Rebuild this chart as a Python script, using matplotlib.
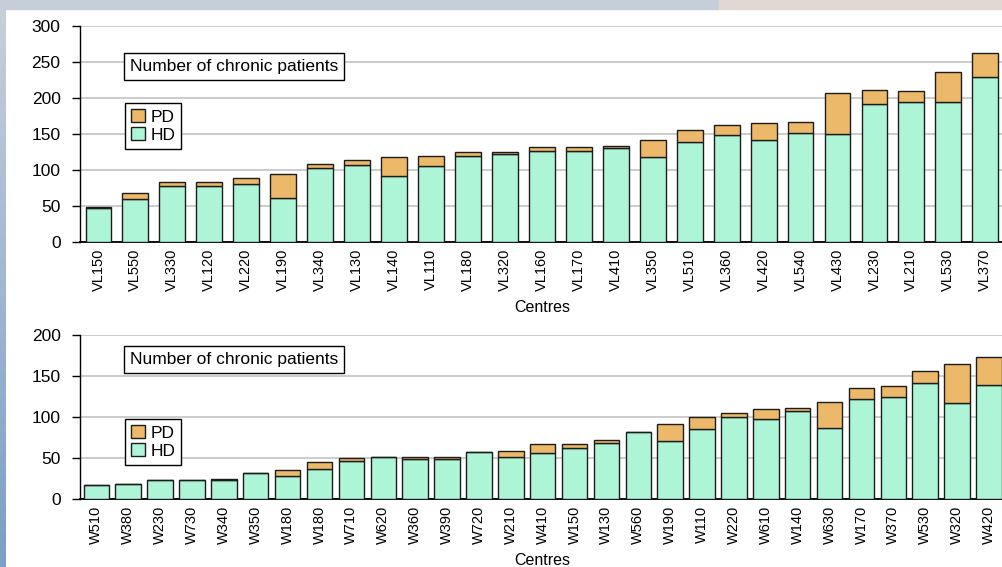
import numpy as np
import matplotlib
matplotlib.use("Agg")
import matplotlib.pyplot as plt
from matplotlib.patches import Rectangle

plt.rcParams['font.family'] = ['Liberation Sans', 'DejaVu Sans']

# --- datos: centros de la region VL ---
centros_vl = ['VL150', 'VL550', 'VL330', 'VL120', 'VL220', 'VL190', 'VL340', 'VL130',
              'VL140', 'VL110', 'VL180', 'VL320', 'VL160', 'VL170', 'VL410', 'VL350',
              'VL510', 'VL360', 'VL420', 'VL540', 'VL430', 'VL230', 'VL210', 'VL530',
              'VL370']
hd_vl = [47, 60, 78, 78, 81, 61, 103, 107, 92, 105, 119, 122, 127, 127, 130, 118,
         139, 149, 141, 152, 150, 191, 195, 194, 229]
pd_vl = [1, 8, 5, 5, 8, 34, 5, 7, 26, 14, 6, 3, 5, 5, 3, 23,
         16, 14, 24, 14, 57, 20, 15, 42, 33]

# --- datos: centros de la region W ---
centros_w = ['W510', 'W380', 'W230', 'W730', 'W340', 'W350', 'W180', 'W180', 'W710',
             'W620', 'W360', 'W390', 'W720', 'W210', 'W410', 'W150', 'W130', 'W560',
             'W190', 'W110', 'W220', 'W610', 'W140', 'W630', 'W170', 'W370', 'W530',
             'W320', 'W420']
hd_w = [18, 19, 23, 23, 23, 32, 28, 37, 47, 51, 49, 49, 58, 52, 56, 63, 68, 82,
        71, 85, 100, 98, 107, 87, 122, 124, 141, 117, 139]
pd_w = [0, 0, 0, 0, 2, 0, 8, 8, 3, 0, 3, 3, 0, 7, 11, 4, 4, 0,
        21, 15, 5, 12, 4, 31, 14, 14, 15, 48, 34]

COLOR_HD = '#aef5d8'
COLOR_PD = '#ecb86a'
BORDE = '#1c1c1c'

fig = plt.figure(figsize=(10.02, 5.67), dpi=100)

# marco de fondo: franja superior y franja lateral con degradado
fig.patches.append(Rectangle((0, 1 - 9 / 567), 719 / 1002, 9 / 567,
                             transform=fig.transFigure, color='#c6ced9', zorder=0))
fig.patches.append(Rectangle((719 / 1002, 1 - 9 / 567), 1 - 719 / 1002, 9 / 567,
                             transform=fig.transFigure, color='#e0d9d3', zorder=0))
ax_borde = fig.add_axes([0, 0, 6 / 1002, 1 - 9 / 567])
grad = np.linspace(0, 1, 256).reshape(-1, 1)
cmap = matplotlib.colors.LinearSegmentedColormap.from_list('borde', ['#c6cfdb', '#7c9ec8'])
ax_borde.imshow(grad, aspect='auto', cmap=cmap, extent=[0, 1, 0, 1])
ax_borde.axis('off')


def dibujar(ax, centros, hd, pd, ancho, ymax, caja_y, leyenda_xy):
    x = np.arange(len(centros))
    b_hd = ax.bar(x, hd, ancho, color=COLOR_HD, edgecolor=BORDE, linewidth=1.0, zorder=3)
    b_pd = ax.bar(x, pd, ancho, bottom=hd, color=COLOR_PD, edgecolor=BORDE,
                  linewidth=1.0, zorder=3)
    ax.set_xlim(-0.5, len(centros) - 0.5)
    ax.set_ylim(0, ymax)
    ax.set_yticks(np.arange(0, ymax + 1, 50))
    ax.set_xticks(x)
    ax.set_xticklabels(centros, rotation=90, fontsize=10.5)
    ax.tick_params(axis='x', length=0, pad=5)
    ax.tick_params(axis='y', length=6, width=1, labelsize=12.5, pad=8)
    ax.yaxis.grid(True, color='#c8c8c8', linewidth=1.3)
    ax.set_axisbelow(True)
    for lado in ['top', 'right']:
        ax.spines[lado].set_visible(False)
    ax.spines['left'].set_linewidth(1.0)
    ax.spines['bottom'].set_linewidth(1.3)
    ax.set_xlabel('Centres', fontsize=11.5, labelpad=6)

    ax.text(leyenda_xy[0] + 0.0055, caja_y, 'Number of chronic patients',
            transform=ax.transAxes, fontsize=12.5, ha='left', va='center', zorder=5,
            bbox=dict(boxstyle='square,pad=0.33', fc='white', ec='black', lw=1))
    leg = ax.legend([b_pd, b_hd], ['PD', 'HD'], loc='upper left',
                    bbox_to_anchor=leyenda_xy, fontsize=12.5, frameon=True,
                    fancybox=False, edgecolor='black', framealpha=1,
                    handlelength=0.8, handleheight=0.8, handletextpad=0.3,
                    borderpad=0.35, labelspacing=0.12, borderaxespad=0)
    leg.get_frame().set_linewidth(1.0)


ax1 = fig.add_axes([80 / 1002, 1 - 242 / 567, 923.8 / 1002, 216 / 567])
dibujar(ax1, centros_vl, hd_vl, pd_vl, 0.7, 300, 0.8125, (0.0487, 0.6435))

ax2 = fig.add_axes([80.4 / 1002, 1 - 499.3 / 567, 924.5 / 1002, 164.3 / 567])
dibujar(ax2, centros_w, hd_w, pd_w, 0.8, 200, 0.851, (0.0482, 0.4887))

fig.savefig('out.png', dpi=100)
